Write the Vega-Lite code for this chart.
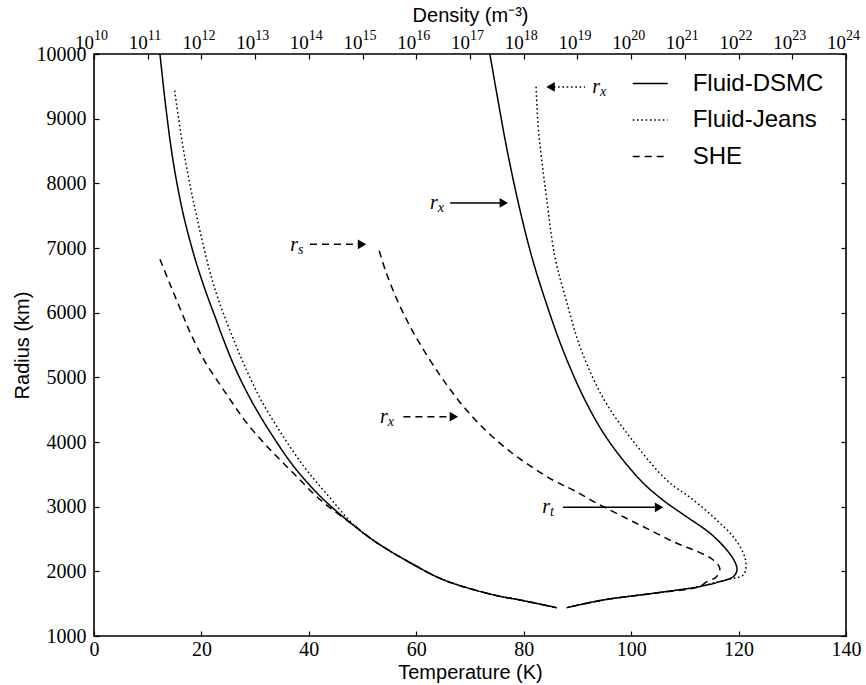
{
  "$schema": "https://vega.github.io/schema/vega-lite/v6.json",
  "width": 752,
  "height": 582,
  "autosize": {"type": "none"},
  "padding": {"left": 94, "top": 54, "right": 20, "bottom": 49},
  "background": "white",
  "config": {
    "font": "Liberation Sans",
    "view": {"stroke": "black", "strokeWidth": 1.6},
    "axis": {
      "grid": false, "domain": false, "tickColor": "black", "tickSize": -5, "tickWidth": 1.2,
      "labelFont": "Liberation Serif", "labelFontSize": 20, "labelColor": "black",
      "titleFont": "Liberation Sans", "titleFontSize": 20, "titleFontWeight": "normal", "titleColor": "black",
      "labelFlush": false, "labelOverlap": false
    }
  },
  "datasets": {
    "temp": [
      {"series": "Fluid-DSMC", "R": 10000, "T": 73.7}, {"series": "Fluid-DSMC", "R": 9289, "T": 75.2}, {"series": "Fluid-DSMC", "R": 8516, "T": 76.9}, {"series": "Fluid-DSMC", "R": 7588, "T": 79.3}, {"series": "Fluid-DSMC", "R": 6866, "T": 81.5}, {"series": "Fluid-DSMC", "R": 6196, "T": 84.0}, {"series": "Fluid-DSMC", "R": 5423, "T": 87.3}, {"series": "Fluid-DSMC", "R": 4649, "T": 91.4}, {"series": "Fluid-DSMC", "R": 4031, "T": 95.7}, {"series": "Fluid-DSMC", "R": 3412, "T": 101.7}, {"series": "Fluid-DSMC", "R": 3103, "T": 105.9}, {"series": "Fluid-DSMC", "R": 2845, "T": 110.3}, {"series": "Fluid-DSMC", "R": 2589, "T": 114.7}, {"series": "Fluid-DSMC", "R": 2330, "T": 117.8}, {"series": "Fluid-DSMC", "R": 2149, "T": 119.3}, {"series": "Fluid-DSMC", "R": 2021, "T": 119.7}, {"series": "Fluid-DSMC", "R": 1917, "T": 119.0}, {"series": "Fluid-DSMC", "R": 1840, "T": 116.5}, {"series": "Fluid-DSMC", "R": 1762, "T": 112.6}, {"series": "Fluid-DSMC", "R": 1660, "T": 104.1}, {"series": "Fluid-DSMC", "R": 1557, "T": 94.8}, {"series": "Fluid-DSMC", "R": 1438, "T": 88.0},
      {"series": "Fluid-Jeans", "R": 9494, "T": 82.3}, {"series": "Fluid-Jeans", "R": 8876, "T": 82.7}, {"series": "Fluid-Jeans", "R": 8361, "T": 83.35}, {"series": "Fluid-Jeans", "R": 7743, "T": 84.3}, {"series": "Fluid-Jeans", "R": 6866, "T": 85.8}, {"series": "Fluid-Jeans", "R": 6196, "T": 87.9}, {"series": "Fluid-Jeans", "R": 5423, "T": 90.7}, {"series": "Fluid-Jeans", "R": 4649, "T": 95.0}, {"series": "Fluid-Jeans", "R": 4031, "T": 100.2}, {"series": "Fluid-Jeans", "R": 3412, "T": 106.6}, {"series": "Fluid-Jeans", "R": 3103, "T": 111.6}, {"series": "Fluid-Jeans", "R": 2794, "T": 115.9}, {"series": "Fluid-Jeans", "R": 2536, "T": 119.0}, {"series": "Fluid-Jeans", "R": 2279, "T": 120.9}, {"series": "Fluid-Jeans", "R": 2098, "T": 121.4}, {"series": "Fluid-Jeans", "R": 1943, "T": 120.9}, {"series": "Fluid-Jeans", "R": 1892, "T": 119.0}, {"series": "Fluid-Jeans", "R": 1815, "T": 115.1}, {"series": "Fluid-Jeans", "R": 1762, "T": 112.6}, {"series": "Fluid-Jeans", "R": 1660, "T": 104.1}, {"series": "Fluid-Jeans", "R": 1557, "T": 94.8}, {"series": "Fluid-Jeans", "R": 1438, "T": 88.0},
      {"series": "SHE", "R": 6958, "T": 53.1}, {"series": "SHE", "R": 6660, "T": 54.23}, {"series": "SHE", "R": 6247, "T": 56.17}, {"series": "SHE", "R": 5836, "T": 58.53}, {"series": "SHE", "R": 5474, "T": 60.99}, {"series": "SHE", "R": 5062, "T": 64.17}, {"series": "SHE", "R": 4804, "T": 66.39}, {"series": "SHE", "R": 4546, "T": 68.81}, {"series": "SHE", "R": 4294, "T": 71.55}, {"series": "SHE", "R": 4031, "T": 74.88}, {"series": "SHE", "R": 3753, "T": 79.07}, {"series": "SHE", "R": 3412, "T": 85.41}, {"series": "SHE", "R": 3258, "T": 89.2}, {"series": "SHE", "R": 3052, "T": 93.6}, {"series": "SHE", "R": 2845, "T": 98.5}, {"series": "SHE", "R": 2639, "T": 103.5}, {"series": "SHE", "R": 2434, "T": 108.5}, {"series": "SHE", "R": 2304, "T": 112.4}, {"series": "SHE", "R": 2175, "T": 115.3}, {"series": "SHE", "R": 2047, "T": 116.5}, {"series": "SHE", "R": 1917, "T": 115.9}, {"series": "SHE", "R": 1840, "T": 114.1}, {"series": "SHE", "R": 1762, "T": 112.6}, {"series": "SHE", "R": 1660, "T": 104.1}, {"series": "SHE", "R": 1557, "T": 94.8}, {"series": "SHE", "R": 1438, "T": 88.0}
    ],
    "dens": [
      {"series": "Fluid-DSMC", "R": 10000, "n": 1.69e11}, {"series": "Fluid-DSMC", "R": 9238, "n": 2.13e11}, {"series": "Fluid-DSMC", "R": 8464, "n": 2.82e11}, {"series": "Fluid-DSMC", "R": 7948, "n": 3.60e11}, {"series": "Fluid-DSMC", "R": 7433, "n": 4.86e11}, {"series": "Fluid-DSMC", "R": 6814, "n": 7.73e11}, {"series": "Fluid-DSMC", "R": 6304, "n": 1.23e12}, {"series": "Fluid-DSMC", "R": 5887, "n": 1.89e12}, {"series": "Fluid-DSMC", "R": 5686, "n": 2.31e12}, {"series": "Fluid-DSMC", "R": 5165, "n": 4.13e12}, {"series": "Fluid-DSMC", "R": 4649, "n": 8.38e12}, {"series": "Fluid-DSMC", "R": 4139, "n": 1.95e13}, {"series": "Fluid-DSMC", "R": 3618, "n": 5.28e13}, {"series": "Fluid-DSMC", "R": 3154, "n": 1.66e14}, {"series": "Fluid-DSMC", "R": 2747, "n": 6.01e14}, {"series": "Fluid-DSMC", "R": 2438, "n": 1.88e15}, {"series": "Fluid-DSMC", "R": 2129, "n": 7.87e15}, {"series": "Fluid-DSMC", "R": 1866, "n": 3.28e16}, {"series": "Fluid-DSMC", "R": 1634, "n": 2.80e17}, {"series": "Fluid-DSMC", "R": 1557, "n": 8.53e17}, {"series": "Fluid-DSMC", "R": 1438, "n": 4.11e18},
      {"series": "Fluid-Jeans", "R": 9433, "n": 3.18e11}, {"series": "Fluid-Jeans", "R": 8721, "n": 4.22e11}, {"series": "Fluid-Jeans", "R": 8052, "n": 5.87e11}, {"series": "Fluid-Jeans", "R": 7433, "n": 8.45e11}, {"series": "Fluid-Jeans", "R": 6660, "n": 1.41e12}, {"series": "Fluid-Jeans", "R": 6196, "n": 2.08e12}, {"series": "Fluid-Jeans", "R": 5686, "n": 3.56e12}, {"series": "Fluid-Jeans", "R": 5165, "n": 6.47e12}, {"series": "Fluid-Jeans", "R": 4649, "n": 1.29e13}, {"series": "Fluid-Jeans", "R": 4139, "n": 3.03e13}, {"series": "Fluid-Jeans", "R": 3618, "n": 8.13e13}, {"series": "Fluid-Jeans", "R": 3207, "n": 2.09e14}, {"series": "Fluid-Jeans", "R": 2690, "n": 7.4e14}, {"series": "Fluid-Jeans", "R": 2438, "n": 1.88e15}, {"series": "Fluid-Jeans", "R": 2129, "n": 7.87e15}, {"series": "Fluid-Jeans", "R": 1866, "n": 3.28e16}, {"series": "Fluid-Jeans", "R": 1634, "n": 2.80e17}, {"series": "Fluid-Jeans", "R": 1557, "n": 8.53e17}, {"series": "Fluid-Jeans", "R": 1438, "n": 4.11e18},
      {"series": "SHE", "R": 6825, "n": 1.69e11}, {"series": "SHE", "R": 6402, "n": 2.72e11}, {"series": "SHE", "R": 5938, "n": 4.63e11}, {"series": "SHE", "R": 5681, "n": 6.26e11}, {"series": "SHE", "R": 5268, "n": 1.12e12}, {"series": "SHE", "R": 4753, "n": 2.86e12}, {"series": "SHE", "R": 4289, "n": 7.05e12}, {"series": "SHE", "R": 3876, "n": 1.93e13}, {"series": "SHE", "R": 3516, "n": 5.18e13}, {"series": "SHE", "R": 3103, "n": 1.65e14}, {"series": "SHE", "R": 2690, "n": 7.4e14}, {"series": "SHE", "R": 2438, "n": 1.88e15}, {"series": "SHE", "R": 2129, "n": 7.87e15}, {"series": "SHE", "R": 1866, "n": 3.28e16}, {"series": "SHE", "R": 1634, "n": 2.80e17}, {"series": "SHE", "R": 1557, "n": 8.53e17}, {"series": "SHE", "R": 1438, "n": 4.11e18}
    ],
    "decades": [
      {"n": 1e10, "e": "10"}, {"n": 1e11, "e": "11"}, {"n": 1e12, "e": "12"}, {"n": 1e13, "e": "13"}, {"n": 1e14, "e": "14"}, {"n": 1e15, "e": "15"}, {"n": 1e16, "e": "16"}, {"n": 1e17, "e": "17"}, {"n": 1e18, "e": "18"}, {"n": 1e19, "e": "19"}, {"n": 1e20, "e": "20"}, {"n": 1e21, "e": "21"}, {"n": 1e22, "e": "22"}, {"n": 1e23, "e": "23"}, {"n": 1e24, "e": "24"}
    ],
    "arrows": [
      {"id": "a1", "series": "Fluid-Jeans", "R": 9490, "T": 91.4}, {"id": "a1", "series": "Fluid-Jeans", "R": 9490, "T": 85.6},
      {"id": "a2", "series": "Fluid-DSMC", "R": 7696, "T": 66.3}, {"id": "a2", "series": "Fluid-DSMC", "R": 7696, "T": 75.6},
      {"id": "a3", "series": "SHE", "R": 7057, "T": 40.2}, {"id": "a3", "series": "SHE", "R": 7057, "T": 49.2},
      {"id": "a4", "series": "SHE", "R": 4391, "T": 57.6}, {"id": "a4", "series": "SHE", "R": 4391, "T": 66.3},
      {"id": "a5", "series": "Fluid-DSMC", "R": 2990, "T": 87.3}, {"id": "a5", "series": "Fluid-DSMC", "R": 2990, "T": 104.5}
    ],
    "heads": [
      {"dir": "left", "R": 9490, "T": 85.0},
      {"dir": "right", "R": 7696, "T": 76.3},
      {"dir": "right", "R": 7057, "T": 49.9},
      {"dir": "right", "R": 4391, "T": 67.0},
      {"dir": "right", "R": 2990, "T": 105.2}
    ],
    "labels": [
      {"sub": "x", "R": 9490, "T": 94.2},
      {"sub": "x", "R": 7696, "T": 64.0},
      {"sub": "s", "R": 7046, "T": 38.0},
      {"sub": "x", "R": 4391, "T": 54.7},
      {"sub": "t", "R": 3000, "T": 84.9}
    ]
  },
  "layer": [
    {
      "layer": [
        {
          "data": {"name": "temp"},
          "mark": {"type": "line", "color": "black", "strokeWidth": 1.5, "interpolate": "catmull-rom"},
          "encoding": {
            "x": {"field": "T", "type": "quantitative", "scale": {"domain": [0, 140], "nice": false, "zero": false},
                  "axis": {"orient": "bottom", "values": [0, 20, 40, 60, 80, 100, 120, 140], "format": "d", "title": "Temperature (K)", "labelPadding": 8, "titleY": 36, "titleBaseline": "middle"}},
            "y": {"field": "R", "type": "quantitative", "scale": {"domain": [1000, 10000], "nice": false, "zero": false},
                  "axis": {"orient": "left", "values": [1000, 2000, 3000, 4000, 5000, 6000, 7000, 8000, 9000, 10000], "format": "d", "title": "Radius (km)", "labelPadding": 13, "titleX": -72, "titleY": 291, "titleAngle": -90, "titleAlign": "center", "titleBaseline": "middle"}},
            "strokeDash": {"field": "series", "type": "nominal",
                  "scale": {"domain": ["Fluid-DSMC", "Fluid-Jeans", "SHE"], "range": [[1, 0], [1.6, 2.7], [7, 5]]},
                  "legend": {"orient": "none", "legendX": 537.7, "legendY": 11, "title": null, "padding": 0, "symbolType": "stroke", "symbolSize": 1225, "symbolStrokeWidth": 1.6, "symbolStrokeColor": "black", "labelFont": "Liberation Sans", "labelFontSize": 24, "labelColor": "black", "labelOffset": 24, "rowPadding": 5.5}},
            "order": {"field": "R", "type": "quantitative", "sort": "descending"}
          }
        },
        {
          "data": {"name": "arrows"},
          "mark": {"type": "line", "color": "black", "strokeWidth": 1.5},
          "encoding": {
            "x": {"field": "T", "type": "quantitative"},
            "y": {"field": "R", "type": "quantitative"},
            "detail": {"field": "id"},
            "strokeDash": {"field": "series", "type": "nominal"}
          }
        },
        {
          "data": {"name": "heads"},
          "mark": {"type": "point", "filled": true, "color": "black", "size": 95, "opacity": 1},
          "encoding": {
            "x": {"field": "T", "type": "quantitative"},
            "y": {"field": "R", "type": "quantitative"},
            "shape": {"field": "dir", "type": "nominal", "scale": {"domain": ["left", "right"], "range": ["triangle-left", "triangle-right"]}, "legend": null}
          }
        },
        {
          "data": {"name": "labels"},
          "mark": {"type": "text", "text": "r", "font": "Liberation Serif", "fontStyle": "italic", "fontSize": 20, "align": "right", "baseline": "middle", "color": "black"},
          "encoding": {
            "x": {"field": "T", "type": "quantitative"},
            "y": {"field": "R", "type": "quantitative"}
          }
        },
        {
          "data": {"name": "labels"},
          "mark": {"type": "text", "font": "Liberation Serif", "fontStyle": "italic", "fontSize": 14, "align": "left", "baseline": "middle", "dy": 5, "color": "black"},
          "encoding": {
            "x": {"field": "T", "type": "quantitative"},
            "y": {"field": "R", "type": "quantitative"},
            "text": {"field": "sub"}
          }
        }
      ]
    },
    {
      "layer": [
        {
          "data": {"name": "dens"},
          "mark": {"type": "line", "color": "black", "strokeWidth": 1.5, "interpolate": "catmull-rom"},
          "encoding": {
            "x": {"field": "n", "type": "quantitative", "scale": {"type": "log", "domain": [1e10, 1e24], "nice": false},
                  "axis": {"orient": "top", "values": [1e10, 1e11, 1e12, 1e13, 1e14, 1e15, 1e16, 1e17, 1e18, 1e19, 1e20, 1e21, 1e22, 1e23, 1e24], "labels": false, "title": "Density (m⁻³)", "titleY": -39, "titleBaseline": "middle"}},
            "y": {"field": "R", "type": "quantitative",
                  "axis": {"orient": "right", "values": [1000, 2000, 3000, 4000, 5000, 6000, 7000, 8000, 9000, 10000], "labels": false, "title": null}},
            "strokeDash": {"field": "series", "type": "nominal"},
            "order": {"field": "R", "type": "quantitative", "sort": "descending"}
          }
        },
        {
          "data": {"name": "decades"},
          "mark": {"type": "text", "text": "10", "font": "Liberation Serif", "fontSize": 19, "align": "right", "baseline": "alphabetic", "dy": -5, "color": "black"},
          "encoding": {
            "x": {"field": "n", "type": "quantitative"},
            "y": {"datum": 10000, "type": "quantitative"}
          }
        },
        {
          "data": {"name": "decades"},
          "mark": {"type": "text", "font": "Liberation Serif", "fontSize": 14, "align": "left", "baseline": "alphabetic", "dy": -14, "color": "black"},
          "encoding": {
            "x": {"field": "n", "type": "quantitative"},
            "y": {"datum": 10000, "type": "quantitative"},
            "text": {"field": "e"}
          }
        }
      ]
    }
  ],
  "resolve": {"scale": {"x": "independent"}, "axis": {"x": "independent", "y": "independent"}}
}
